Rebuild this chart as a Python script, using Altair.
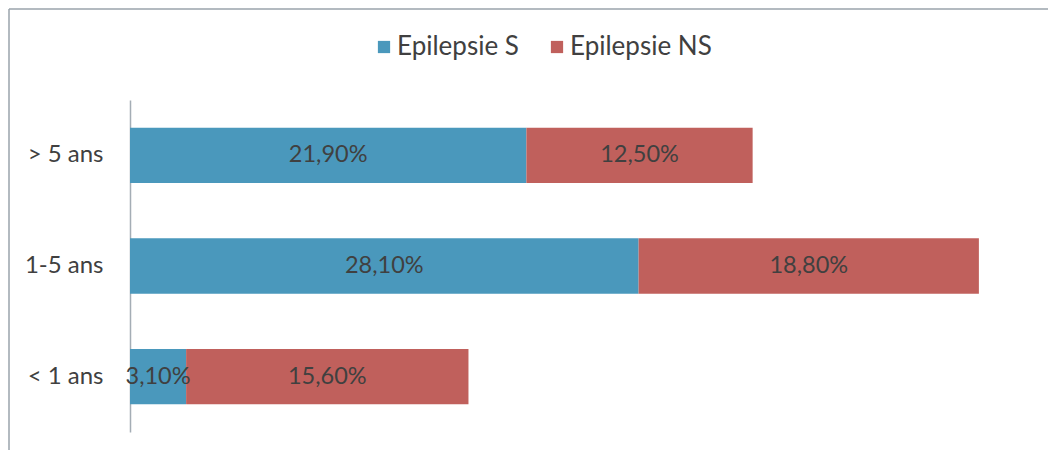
import altair as alt
import pandas as pd

categories = ["> 5 ans", "1-5 ans", "< 1 ans"]
series = ["Epilepsie S", "Epilepsie NS"]
s_values = [21.9, 28.1, 3.1]
ns_values = [12.5, 18.8, 15.6]
colors = ["#4a98bc", "#c0605c"]

rows = []
for i, c in enumerate(categories):
    for j, (name, vals) in enumerate(zip(series, [s_values, ns_values])):
        v = vals[i]
        rows.append({"cat": c, "series": name, "order": j, "value": v,
                     "label": f"{v:.2f}%".replace(".", ",")})
df = pd.DataFrame(rows)

FONT = "Lato"
TXT = "#404040"

base = alt.Chart(df).transform_stack(
    stack="value", groupby=["cat"], as_=["x0", "x1"], sort=[alt.SortField("order")]
).transform_calculate(mid="(datum.x0 + datum.x1) / 2")

xscale = alt.Scale(domain=[0, 50], nice=False, zero=True)
yscale = alt.Scale(domain=categories, paddingInner=0.5, paddingOuter=0.25)

bars = base.mark_bar().encode(
    x=alt.X("x0:Q", scale=xscale, axis=None),
    x2="x1:Q",
    y=alt.Y("cat:N", scale=yscale, sort=categories,
            axis=alt.Axis(title=None, ticks=False, labelFontSize=24, labelPadding=27,
                          labelFont=FONT, labelColor=TXT, domainColor="#a4adb5",
                          domainWidth=1.5)),
    color=alt.Color("series:N", scale=alt.Scale(domain=series, range=colors),
                    legend=alt.Legend(title=None, orient="none", direction="horizontal",
                                      legendX=241, legendY=-66, symbolType="square",
                                      symbolSize=150, symbolStrokeWidth=0,
                                      labelFontSize=26, labelFont=FONT, labelColor=TXT,
                                      labelOffset=0, columnPadding=25)),
)

text = base.mark_text(fontSize=23.5, font=FONT, color=TXT).encode(
    x=alt.X("mid:Q", scale=xscale),
    y=alt.Y("cat:N", scale=yscale, sort=categories),
    text="label:N",
)

frame_df = pd.DataFrame({"k": [0]})
top_line = alt.Chart(frame_df).mark_rule(color="#9aa3ab", strokeWidth=1.5).encode(
    x=alt.value(-121), x2=alt.value(940), y=alt.value(-91))
left_line = alt.Chart(frame_df).mark_rule(color="#9aa3ab", strokeWidth=1.5).encode(
    x=alt.value(-121), y=alt.value(-91), y2=alt.value(360))

chart = alt.layer(bars, text, top_line, left_line).properties(
    width=905, height=332,
    padding={"left": 122, "top": 92, "right": 13, "bottom": 18},
    autosize=alt.AutoSizeParams(type="none"),
).configure_view(stroke=None)

chart.save("out.html", embed_options={"renderer": "svg", "actions": False})
